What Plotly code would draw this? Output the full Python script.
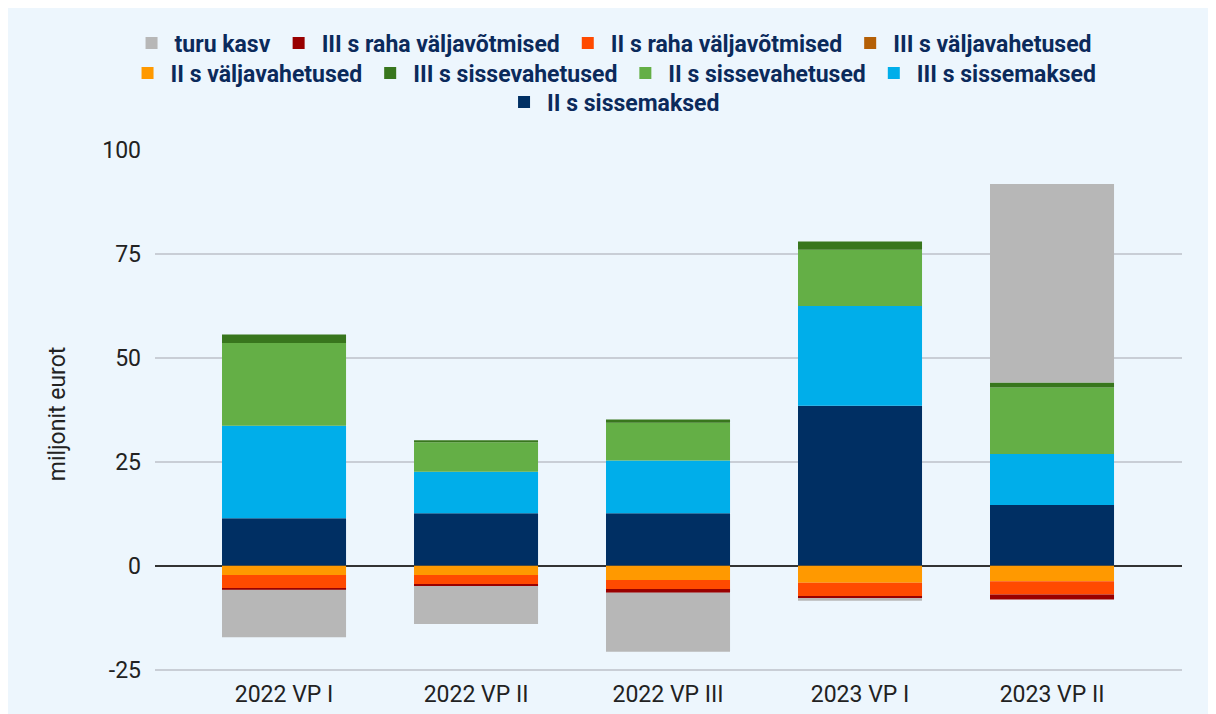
import plotly.graph_objects as go

categories = ["2022 VP I", "2022 VP II", "2022 VP III", "2023 VP I", "2023 VP II"]

ii_sissemaksed = [11.4, 12.6, 12.6, 38.5, 14.6]
iii_sissemaksed = [22.3, 10.0, 12.7, 24.0, 12.3]
ii_sissevahetused = [19.9, 7.1, 9.1, 13.5, 16.0]
iii_sissevahetused = [2.0, 0.5, 0.8, 2.0, 1.2]
ii_valjavahetused = [-2.2, -2.2, -3.4, -4.1, -3.7]
iii_valjavahetused = [0.0, 0.0, 0.0, 0.0, 0.0]
ii_raha = [-3.2, -2.4, -2.2, -3.2, -3.2]
iii_raha = [-0.4, -0.3, -0.9, -0.5, -1.2]
turu_kasv = [-11.4, -9.1, -14.2, -0.6, 47.7]

y_tickvals = [-25, 0, 25, 50, 75, 100]
y_ticktext = ["-25", "0", "25", "50", "75", "100"]

series = [
    ("II s sissemaksed", ii_sissemaksed, "#002F63", "legend3"),
    ("III s sissemaksed", iii_sissemaksed, "#00AEEA", "legend2"),
    ("II s sissevahetused", ii_sissevahetused, "#64AF46", "legend2"),
    ("III s sissevahetused", iii_sissevahetused, "#38761D", "legend2"),
    ("II s väljavahetused", ii_valjavahetused, "#FF9900", "legend2"),
    ("III s väljavahetused", iii_valjavahetused, "#B45F06", "legend"),
    ("II s raha väljavõtmised", ii_raha, "#FF4A00", "legend"),
    ("III s raha väljavõtmised", iii_raha, "#990000", "legend"),
    ("turu kasv", turu_kasv, "#B7B7B7", "legend"),
]

fig = go.Figure()
for name, vals, color, lg in series:
    fig.add_trace(go.Bar(
        x=categories, y=vals, name=name, marker_color=color,
        marker_line_width=0, legend=lg,
    ))

legend_font = dict(family="Roboto", size=23, color="#0B2A5B", weight="bold")
common_legend = dict(orientation="h", x=0.446, xanchor="center", yanchor="middle",
                     bgcolor="rgba(0,0,0,0)", font=legend_font, traceorder="reversed",
                     itemclick=False, itemwidth=36)

fig.update_layout(
    width=1216, height=714,
    barmode="relative",
    bargap=0.354,
    paper_bgcolor="#EDF6FD",
    plot_bgcolor="rgba(0,0,0,0)",
    margin=dict(l=147, r=42, t=142, b=44),
    font=dict(family="Roboto", size=23, color="#222222"),
    legend=dict(common_legend, y=1.2027),
    legend2=dict(common_legend, y=1.1458),
    legend3=dict(common_legend, y=1.0909),
    xaxis=dict(
        range=[-0.672, 4.677], showgrid=False, zeroline=False,
        tickfont=dict(size=23, color="#222222"), ticks="", showline=False,
    ),
    yaxis=dict(
        range=[-27, 100], tickvals=y_tickvals, ticktext=y_ticktext,
        gridcolor="#C9CED6", gridwidth=1.5,
        zeroline=True, zerolinecolor="#333333", zerolinewidth=2,
        tickfont=dict(size=23, color="#222222"), ticklabelstandoff=13,
        title=dict(text="miljonit eurot", font=dict(size=23, color="#222222"), standoff=30),
    ),
)

fig.write_html("out.html")
